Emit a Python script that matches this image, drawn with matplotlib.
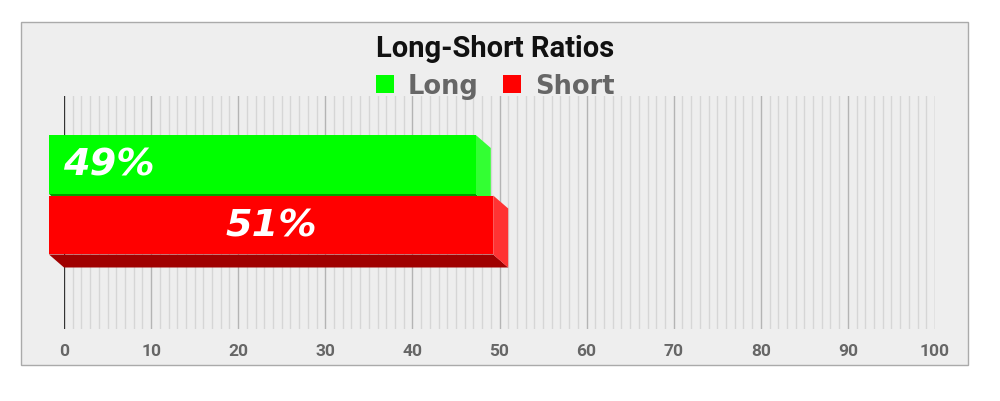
import numpy as np
import matplotlib.pyplot as plt
from matplotlib.patches import Rectangle, Patch
from matplotlib.ticker import MultipleLocator

# data
categories = ["Long", "Short"]
ratios = [49, 51]
labels = ["49%", "51%"]
front_colors = ["#00ff00", "#ff0000"]
side_colors = ["#33ff33", "#ff3333"]
bottom_colors = ["#00a000", "#a00000"]
label_align = ["left", "center"]
x_ticks = list(range(0, 101, 10))

fig = plt.figure(figsize=(10, 4.02), dpi=100)
fig.patch.set_facecolor("white")

# outer panel
fig.patches.append(Rectangle((21 / 1000, 1 - 366 / 402), 947 / 1000, 343 / 402,
                             transform=fig.transFigure, facecolor="#eeeeee",
                             edgecolor="#aaaaaa", linewidth=1, zorder=-5))

ax = fig.add_axes([0.064, 1 - 330 / 402, 0.871, 233 / 402])
ax.set_zorder(2)
ax.set_facecolor("none")
ax.set_xlim(0, 100)
ax.set_ylim(2.504, -1.347)

ax.xaxis.set_major_locator(MultipleLocator(10))
ax.xaxis.set_minor_locator(MultipleLocator(1))
ax.grid(which="minor", axis="x", color="#d6d6d6", linewidth=1)
ax.grid(which="major", axis="x", color="#b4b4b4", linewidth=1)
ax.set_axisbelow(True)
ax.axvline(0, color="#333333", linewidth=1.6, zorder=1)
for s in ax.spines.values():
    s.set_visible(False)
ax.set_yticks([])
ax.set_xticks(x_ticks)
ax.tick_params(axis="x", which="both", length=0, pad=10)
for t in ax.get_xticklabels():
    t.set_fontfamily("Roboto")
    t.set_fontweight("bold")
    t.set_fontsize(12.5)
    t.set_color("#666666")

# depth of the 3d bars: front face shifted 15px left, 13px up
p0 = ax.transData.transform((0, 0))
dx, dy = ax.transData.inverted().transform(p0 + np.array([-15, 13]))
h = 0.975

for i, v in enumerate(ratios):
    top, bot = i - h / 2, i + h / 2
    ax.fill([dx, v + dx, v, 0], [bot + dy, bot + dy, bot, bot],
            color=bottom_colors[i], clip_on=False, zorder=3, linewidth=0)
    ax.fill([v + dx, v, v, v + dx], [top + dy, top, bot, bot + dy],
            color=side_colors[i], clip_on=False, zorder=3, linewidth=0)
    bars = ax.barh(i + dy, v, left=dx, height=h, color=front_colors[i],
                   clip_on=False, zorder=3, linewidth=0)
    if label_align[i] == "left":
        tx = dx + 1.6
    else:
        tx = dx + v / 2
    ax.text(tx, i + dy, labels[i], ha=label_align[i], va="center",
            color="white", fontsize=27.5, fontweight="bold", fontstyle="italic",
            family="DejaVu Sans", zorder=4)

fig.text(0.495, 1 - 57 / 402, "Long-Short Ratios", ha="center", va="baseline",
         fontsize=21, fontweight="bold", family="Roboto", color="#111111")

handles = [Patch(facecolor=c, edgecolor="none") for c in front_colors]
fig.legend(handles, categories, loc="center", bbox_to_anchor=(0.495, 1 - 87 / 402),
           ncol=2, frameon=False, handlelength=0.72, handleheight=0.72,
           handletextpad=0.52, columnspacing=0.96,
           prop={"family": "DejaVu Sans", "weight": "bold", "size": 18.5},
           labelcolor="#666666")

fig.savefig("out.png", dpi=100)
